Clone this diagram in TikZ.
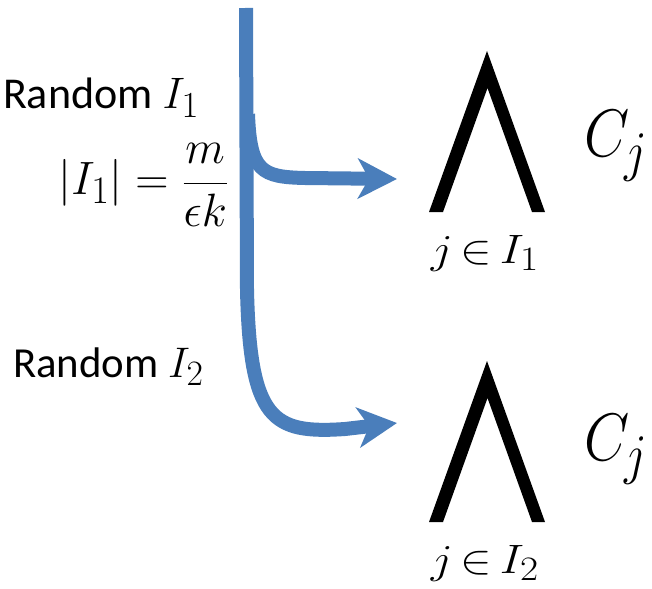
\documentclass[tikz,border=0pt]{standalone}
\usepackage{fontspec}
\newfontfamily\calib{Carlito}
\usetikzlibrary{arrows.meta}
\definecolor{flowblue}{RGB}{74,126,187}
\tikzset{
  flow/.style={draw=flowblue, line width=14pt,
    -{Stealth[length=39pt,width=40pt,inset=11pt]}},
  lbl/.style={inner sep=0pt, outer sep=0pt, transform shape,
    font=\fontsize{24.88}{28}\selectfont},
  wedgeshape/.style={fill=black, draw=none},
}
\begin{document}
\begin{tikzpicture}[x=1pt,y=-1pt]
\useasboundingbox (0,0) rectangle (652,588);
% coordinates of the flow
\coordinate (top) at (246,8);
\coordinate (split) at (248,114);
\coordinate (tip1) at (397,179);
\coordinate (tip2) at (397,423);
% connectors
\draw[flow] (top) -- (247,290) .. controls (250,420) and (272,434) .. (345,429) -- (tip2);
\draw[flow] (split) .. controls (250,172) and (262,177) .. (305,178) -- (tip1);
% labels
\node[lbl, scale=1.77, anchor=base west] (r1) at (3,109) {\calib Random $I_1$};
\node[lbl, xscale=1.85, yscale=1.88, anchor=east] (eq) at (229,185) {$\displaystyle |I_1| = \frac{m}{\epsilon k}$};
\node[lbl, scale=1.72, anchor=base west] (r2) at (13,377) {\calib Random $I_2$};
% big wedges
\fill[wedgeshape] (487,51) -- (545,212) -- (532,212) -- (487.5,88) -- (443,212) -- (429,212) -- cycle;
\fill[wedgeshape] (487,361) -- (545,522) -- (532,522) -- (487.5,398) -- (443,522) -- (429,522) -- cycle;
\node[lbl, xscale=1.9, yscale=1.65, anchor=base] (s1) at (485,263) {$j\mskip3mu{\in}\mskip3mu I_1$};
\node[lbl, xscale=1.9, yscale=1.65, anchor=base] (s2) at (485,573) {$j\mskip3mu{\in}\mskip3mu I_2$};
\node[lbl, xscale=2.35, yscale=2.7, anchor=base west] (c1) at (584,157) {$C_j$};
\node[lbl, xscale=2.35, yscale=2.7, anchor=base west] (c2) at (584,460) {$C_j$};
\end{tikzpicture}
\end{document}
